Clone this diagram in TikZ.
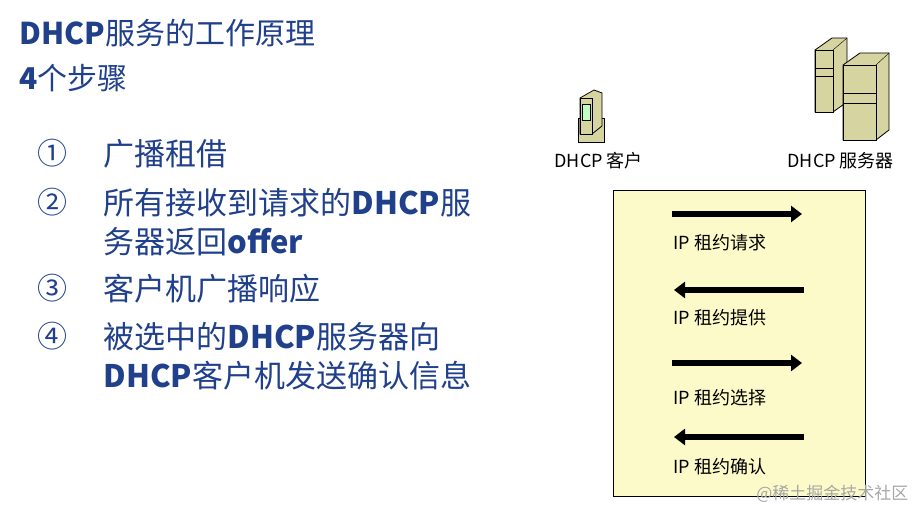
\documentclass[tikz,border=0pt]{standalone}
\usepackage{fontspec}
\setmainfont{Noto Sans CJK SC}
\definecolor{tblue}{RGB}{32,64,140}
\definecolor{boxy}{RGB}{252,250,200}
\definecolor{olive}{RGB}{214,212,160}
\tikzset{
 title/.style={anchor=west,text=tblue,font=\fontsize{30}{36}\selectfont},
 item/.style={anchor=north west,text=tblue,font=\fontsize{31}{39}\selectfont,align=left},
 num/.style={anchor=north west,text=tblue,font=\fontsize{30}{39}\selectfont},
 lbl/.style={anchor=west,font=\fontsize{18}{20}\selectfont},
 arr/.style={line width=5.5pt,-{Triangle[length=11pt,width=16pt]}},
 icon/.style={draw=black,fill=olive,line width=0.8pt}
}
\usetikzlibrary{arrows.meta}
\begin{document}
\begin{tikzpicture}[x=1pt,y=-1pt]
\useasboundingbox (0,0) rectangle (922,521);
\node[title] (t1) at (16,33) {\textbf{DHCP}服务的工作原理};
\node[title] (t2) at (16,78) {\textbf{4}个步骤};
\node[num] (n1) at (34,136) {①};
\node[item] (i1) at (100,136) {广播租借};
\node[num] (n2) at (34,185) {②};
\node[item] (i2) at (100,185) {所有接收到请求的\textbf{DHCP}服\\务器返回\textbf{offer}};
\node[num] (n3) at (34,271) {③};
\node[item] (i3) at (100,271) {客户机广播响应};
\node[num] (n4) at (34,319) {④};
\node[item] (i4) at (100,319) {被选中的\textbf{DHCP}服务器向\\\textbf{DHCP}客户机发送确认信息};
% client icon
\draw[icon] (578,118) rectangle (604,142);
\draw[icon] (580,98) -- (594,90) -- (602,93) -- (602,126) -- (592,134) -- (580,134) -- cycle;
\draw[icon] (580,98) rectangle (592,134);
\draw[fill=green!25!white,line width=0.6pt] (582,104) rectangle (590,120);
% server icons
\draw[icon] (815,50) -- (832,38) -- (847,38) -- (847,102) -- (833,112) -- (815,112) -- cycle;
\draw[icon] (815,50) rectangle (833,112);
\draw (833,50) -- (847,38);
\draw (815,68) -- (833,68) (815,76)--(833,76);
\draw[icon] (843,65) -- (860,53) -- (889,53) -- (889,130) -- (876,140) -- (843,140) -- cycle;
\draw[icon] (843,65) rectangle (876,140);
\draw (876,65) -- (889,53);
\draw (843,93) -- (876,93) (843,103) -- (876,103);
\node[lbl] (cl) at (551,161) {DHCP 客户};
\node[lbl] (sv) at (784,161) {DHCP 服务器};
\node[draw=black,fill=boxy,line width=1pt,minimum width=252pt,minimum height=306pt,anchor=north west,inner sep=0] (box) at (613,190) {};
\coordinate (a1l) at (672,214); \coordinate (a1r) at (802,214);
\coordinate (a2l) at (674,290); \coordinate (a2r) at (804,290);
\coordinate (a3l) at (672,363); \coordinate (a3r) at (802,363);
\coordinate (a4l) at (674,437); \coordinate (a4r) at (804,437);
\draw[arr] (a1l) -- (a1r);
\draw[arr] (a2r) -- (a2l);
\draw[arr] (a3l) -- (a3r);
\draw[arr] (a4r) -- (a4l);
\node[lbl] (l1) at (670,243) {IP 租约请求};
\node[lbl] (l2) at (670,318) {IP 租约提供};
\node[lbl] (l3) at (670,398) {IP 租约选择};
\node[lbl] (l4) at (670,467) {IP 租约确认};
\node[anchor=east,text=gray!70,font=\fontsize{17}{18}\selectfont] (wm) at (912,494) {@稀土掘金技术社区};
\end{tikzpicture}
\end{document}
